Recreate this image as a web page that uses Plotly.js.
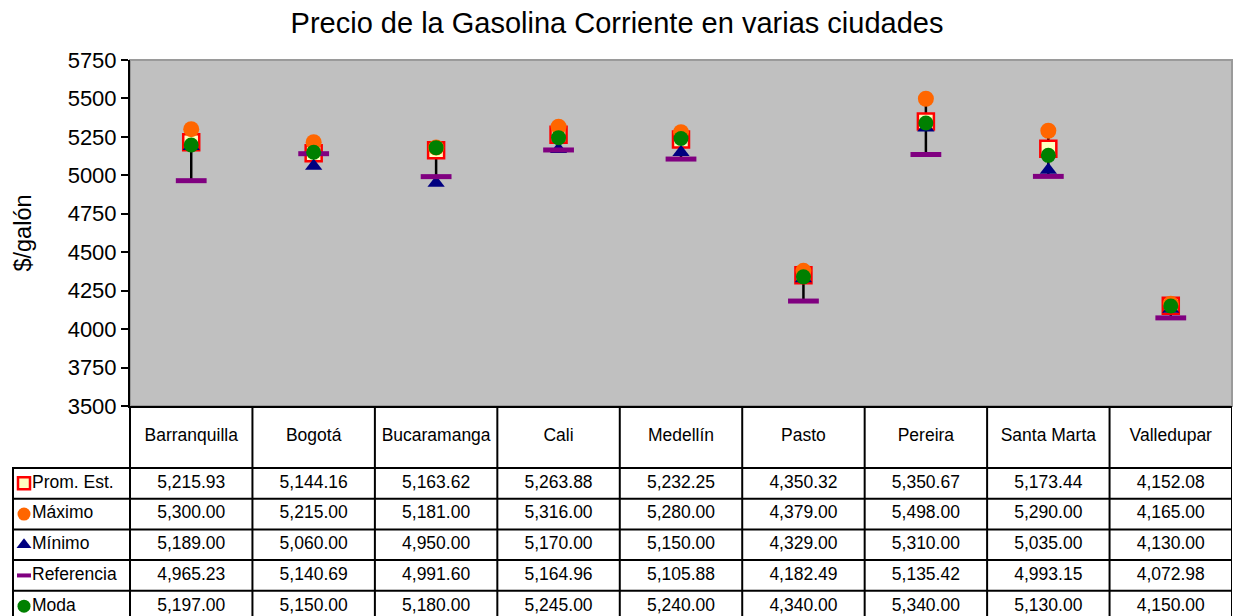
<!DOCTYPE html>
<html>
<head>
<meta charset="utf-8">
<script src="https://cdn.plot.ly/plotly-3.0.1.min.js"></script>
<style>
  html, body { margin: 0; padding: 0; background: #fff; }
  #chart { width: 1234px; height: 616px; }
</style>
</head>
<body>
<div id="chart"></div>
<script>
var ciudades = ["Barranquilla", "Bogotá", "Bucaramanga", "Cali", "Medellín", "Pasto", "Pereira", "Santa Marta", "Valledupar"];

var promEst = [5215.93, 5144.16, 5163.62, 5263.88, 5232.25, 4350.32, 5350.67, 5173.44, 4152.08];
var maximo = [5300.00, 5215.00, 5181.00, 5316.00, 5280.00, 4379.00, 5498.00, 5290.00, 4165.00];
var minimo = [5189.00, 5060.00, 4950.00, 5170.00, 5150.00, 4329.00, 5310.00, 5035.00, 4130.00];
var referencia = [4965.23, 5140.69, 4991.60, 5164.96, 5105.88, 4182.49, 5135.42, 4993.15, 4072.98];
var moda = [5197.00, 5150.00, 5180.00, 5245.00, 5240.00, 4340.00, 5340.00, 5130.00, 4150.00];

var nombres = ["Prom. Est.", "Máximo", "Mínimo", "Referencia", "Moda"];
var valores = [promEst, maximo, minimo, referencia, moda];

// marker styles for each series (chart size / legend size)
var estilos = [
  { symbol: "square", color: "#FFFFC0", line: { color: "#FF0000", width: 2.5 }, size: 16, legSize: 12 },
  { symbol: "circle", color: "#FF6600", line: { width: 0 }, size: 16, legSize: 13 },
  { symbol: "triangle-up", color: "#000080", line: { width: 0 }, size: 15, legSize: 13 },
  { symbol: "line-ew", color: "#800080", line: { color: "#800080", width: 5 }, size: 22, legSize: 10 },
  { symbol: "circle", color: "#008000", line: { width: 0 }, size: 15, legSize: 13 }
];

var W = 1234, H = 616;
var plotL = 130, plotR = 1232, plotT = 60, plotB = 406, tabL = 12;
var colW = (plotR - plotL) / ciudades.length;
var legCols = (plotL - tabL) / colW;
var x2min = -0.5 - legCols;
var rowH = 30.7;
var headRows = 62 / rowH;
var y2top = -0.5 - headRows;
var y2bot = 4.5 - (468 + 5 * rowH - H) / rowH;

function fmt(d) {
  return d.toLocaleString("en-US", { minimumFractionDigits: 2, maximumFractionDigits: 2 });
}

var traces = [];

// high-low line from lowest to highest value of each city
var hlX = [], hlY = [];
ciudades.forEach(function (c, i) {
  var vals = valores.map(function (v) { return v[i]; });
  hlX.push(c, c, null);
  hlY.push(Math.min.apply(null, vals), Math.max.apply(null, vals), null);
});
traces.push({
  x: hlX, y: hlY, mode: "lines", type: "scatter",
  line: { color: "#000000", width: 2.5 }, hoverinfo: "skip"
});

valores.forEach(function (v, k) {
  var e = estilos[k];
  traces.push({
    x: ciudades, y: v, name: nombres[k], mode: "markers", type: "scatter",
    marker: { symbol: e.symbol, color: e.color, size: e.size, line: e.line },
    cliponaxis: false
  });
});

// data table: header row with city names
traces.push({
  x: ciudades.map(function (c, i) { return i; }),
  y: ciudades.map(function () { return -0.5 - headRows / 2; }),
  text: ciudades, mode: "text", type: "scatter",
  xaxis: "x2", yaxis: "y2", textposition: "middle center",
  textfont: { size: 17.5, color: "#000" }, cliponaxis: false
});

// table body values
valores.forEach(function (v, k) {
  traces.push({
    x: v.map(function (d, i) { return i; }),
    y: v.map(function () { return k; }),
    text: v.map(fmt),
    mode: "text", type: "scatter", xaxis: "x2", yaxis: "y2",
    textposition: "middle center",
    textfont: { size: 17.5, color: "#000" }, cliponaxis: false
  });
});

// legend keys inside the table
valores.forEach(function (v, k) {
  var e = estilos[k];
  traces.push({
    x: [x2min + 12 / colW], y: [k], mode: "markers", type: "scatter",
    xaxis: "x2", yaxis: "y2", cliponaxis: false,
    marker: {
      symbol: e.symbol, color: e.color, size: e.legSize,
      line: k === 3 ? { color: e.color, width: 4 } : (k === 0 ? { color: "#FF0000", width: 2.5 } : e.line)
    }
  });
  traces.push({
    x: [x2min + 20 / colW], y: [k], text: [nombres[k]], mode: "text", type: "scatter",
    xaxis: "x2", yaxis: "y2", textposition: "middle right", cliponaxis: false,
    textfont: { size: 17.5, color: "#000" }
  });
});

// plot area fill and gray top/right border
var shapes = [{
  type: "rect", xref: "x domain", yref: "y domain", x0: 0, x1: 1, y0: 0, y1: 1,
  fillcolor: "#C0C0C0", line: { color: "#9A9A9A", width: 2 }, layer: "below"
}];

// table grid lines
var ln = { color: "#000000", width: 2 };
for (var i = 0; i <= ciudades.length; i++) {
  shapes.push({ type: "line", xref: "x2", yref: "y2", x0: i - 0.5, x1: i - 0.5, y0: y2top, y1: y2bot + 1, line: ln });
}
shapes.push({ type: "line", xref: "x2", yref: "y2", x0: x2min + 1 / colW, x1: x2min + 1 / colW, y0: -0.5, y1: y2bot + 1, line: ln });
for (var r = 0; r < nombres.length; r++) {
  shapes.push({ type: "line", xref: "x2", yref: "y2", x0: x2min, x1: 8.5, y0: r - 0.5, y1: r - 0.5, line: ln });
}

var layout = {
  width: W, height: H,
  margin: { l: 0, r: 0, t: 0, b: 0 },
  paper_bgcolor: "#FFFFFF",
  plot_bgcolor: "#FFFFFF",
  font: { family: "Arial, 'Liberation Sans', sans-serif", color: "#000" },
  showlegend: false,
  hovermode: false,
  title: {
    text: "Precio de la Gasolina Corriente en varias ciudades",
    font: { size: 29, color: "#000" },
    x: 0.5, xanchor: "center", xref: "paper",
    y: 1 - 23 / H, yanchor: "middle"
  },
  xaxis: {
    domain: [plotL / W, plotR / W],
    type: "category", range: [-0.5, 8.5],
    showticklabels: false, ticks: "", showgrid: false, zeroline: false,
    showline: true, linecolor: "#000", linewidth: 2
  },
  yaxis: {
    domain: [1 - plotB / H, 1 - plotT / H],
    range: [3500, 5750], dtick: 250, tick0: 3500,
    showgrid: false, zeroline: false,
    showline: true, linecolor: "#000", linewidth: 2,
    ticks: "outside", ticklen: 7, tickwidth: 2, tickcolor: "#000",
    tickfont: { size: 22 }, automargin: false,
    title: { text: "$/galón", font: { size: 23.5 }, standoff: 29 }
  },
  xaxis2: {
    domain: [tabL / W, plotR / W], range: [x2min, 8.5],
    visible: false, anchor: "y2"
  },
  yaxis2: {
    domain: [0, 1 - plotB / H], range: [y2bot, y2top],
    visible: false, anchor: "x2"
  },
  shapes: shapes
};

Plotly.newPlot("chart", traces, layout, { staticPlot: true, displayModeBar: false });
</script>
</body>
</html>
